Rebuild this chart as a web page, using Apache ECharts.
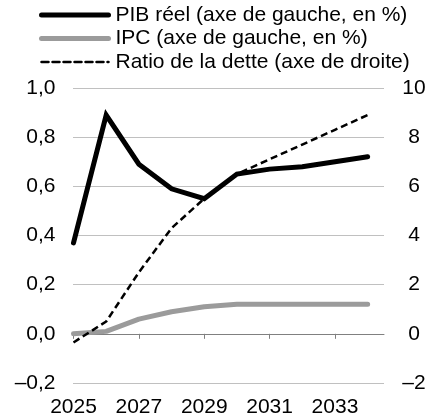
<!DOCTYPE html>
<html>
<head>
<meta charset="utf-8">
<script src="https://cdn.jsdelivr.net/npm/echarts@6/dist/echarts.min.js"></script>
<style>
  html, body { margin: 0; padding: 0; background: #fff; }
  #chart { width: 435px; height: 419px; }
</style>
</head>
<body>
<div id="chart"></div>
<script>
// Years of the projection
const years = [2025, 2026, 2027, 2028, 2029, 2030, 2031, 2032, 2033, 2034];
// Real GDP, % (left axis)
const pibReel = [0.37, 0.89, 0.69, 0.59, 0.55, 0.65, 0.67, 0.68, 0.70, 0.72];
// CPI, % (left axis)
const ipc = [0.00, 0.01, 0.06, 0.09, 0.11, 0.12, 0.12, 0.12, 0.12, 0.12];
// Debt ratio (right axis)
const ratioDette = [-0.35, 0.5, 2.5, 4.3, 5.5, 6.5, 7.1, 7.7, 8.3, 8.9];
// Tick labels on the year axis
const yearTicks = [2025, 2027, 2029, 2031, 2033];

const seriesNames = [
  'PIB réel (axe de gauche, en %)',
  'IPC (axe de gauche, en %)',
  'Ratio de la dette (axe de droite)'
];

const pairs = (vals) => years.map((y, i) => [y, vals[i]]);
const fr = (v, digits) => {
  let s = Math.abs(v) < 1e-9 ? (0).toFixed(digits) : v.toFixed(digits);
  return s.replace('.', ',').replace('-', '\u2013');
};

const FONT = 'Liberation Sans, Arial, sans-serif';
const FS = 21;

const chart = echarts.init(document.getElementById('chart'), null, { renderer: 'canvas' });
chart.setOption({
  animation: false,
  textStyle: { fontFamily: FONT, color: '#000' },
  grid: { left: 73.5, right: 51, top: 88, bottom: 36, containLabel: false },
  legend: {
    orient: 'vertical',
    left: 39,
    top: 4.5,
    padding: 0,
    itemWidth: 67,
    itemHeight: 21,
    itemGap: 2.5,
    textStyle: { fontFamily: FONT, fontSize: FS, lineHeight: 21, color: '#000', padding: [0, 0, 0, 2] },
    itemStyle: { opacity: 0, borderWidth: 0 },
    lineStyle: { width: 'inherit', type: 'inherit', cap: 'round' },
    data: seriesNames
  },
  xAxis: [
    {
      type: 'value',
      min: 2025,
      max: 2034.5,
      interval: 2,
      axisLine: { show: true, onZero: true, lineStyle: { color: '#808080', width: 1 } },
      axisTick: { show: true, inside: false, length: 5, customValues: yearTicks, lineStyle: { color: '#808080' } },
      axisLabel: { show: false },
      splitLine: { show: false }
    },
    {
      type: 'value',
      position: 'bottom',
      min: 2025,
      max: 2034.5,
      interval: 2,
      axisLine: { show: false, onZero: false },
      axisTick: { show: false },
      axisLabel: {
        show: true,
        margin: 14,
        fontSize: FS,
        fontFamily: FONT,
        color: '#000',
        customValues: yearTicks,
        formatter: (v) => String(v)
      },
      splitLine: { show: false }
    }
  ],
  yAxis: [
    {
      type: 'value',
      position: 'left',
      min: -0.2,
      max: 1.0,
      interval: 0.2,
      axisLine: { show: false },
      axisTick: { show: false },
      axisLabel: { margin: 18, fontSize: FS, fontFamily: FONT, color: '#000', formatter: (v) => fr(v, 1) },
      splitLine: { show: true, lineStyle: { color: '#808080', type: [1, 1], width: 1 } }
    },
    {
      type: 'value',
      position: 'right',
      min: -2,
      max: 10,
      interval: 2,
      axisLine: { show: false },
      axisTick: { show: false },
      axisLabel: { margin: 30, align: 'center', fontSize: FS, fontFamily: FONT, color: '#000', formatter: (v) => fr(v, 0) },
      splitLine: { show: false }
    }
  ],
  series: [
    {
      name: seriesNames[2],
      type: 'line',
      yAxisIndex: 1,
      symbol: 'none',
      data: pairs(ratioDette),
      lineStyle: { color: '#000', width: 2.5, type: [7, 4] },
      itemStyle: { color: '#000' },
      z: 3
    },
    {
      name: seriesNames[1],
      type: 'line',
      yAxisIndex: 0,
      symbol: 'none',
      data: pairs(ipc),
      lineStyle: { color: '#9b9b9b', width: 5, cap: 'round', join: 'round' },
      itemStyle: { color: '#9b9b9b' },
      z: 2
    },
    {
      name: seriesNames[0],
      type: 'line',
      yAxisIndex: 0,
      symbol: 'none',
      data: pairs(pibReel),
      lineStyle: { color: '#000', width: 5, cap: 'round', join: 'miter' },
      itemStyle: { color: '#000' },
      z: 4
    }
  ]
});
</script>
</body>
</html>
